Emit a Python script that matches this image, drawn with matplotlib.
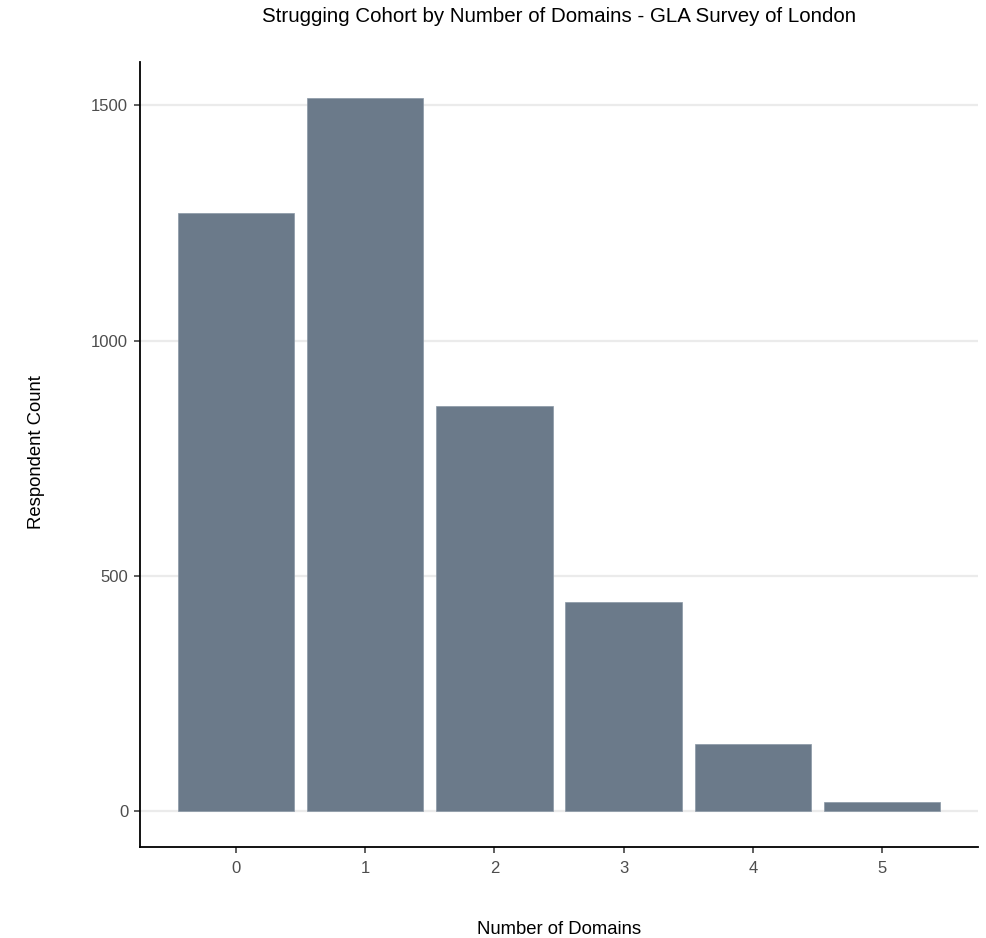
import matplotlib
matplotlib.use("Agg")
import matplotlib.pyplot as plt

plt.rcParams['font.family'] = ['Liberation Sans', 'DejaVu Sans']

domains = [0, 1, 2, 3, 4, 5]
counts = [1270, 1516, 861, 444, 144, 19]
yticks = [0, 500, 1000, 1500]

fig = plt.figure(figsize=(9.87, 9.38), dpi=100)
ax = fig.add_axes([140/987, (938-847)/938, (978-140)/987, (847-62)/938])

ax.bar(domains, counts, width=0.9, color='#6B7A8A', edgecolor='#8A97A5', linewidth=0.5, zorder=3)

ax.set_xlim(-0.74, 5.74)
ax.set_ylim(-75.8, 1591.8)
ax.set_yticks(yticks)
ax.set_xticks(domains)
ax.set_xticklabels([str(d) for d in domains])
ax.yaxis.grid(True, color='#EBEBEB', linewidth=1.6, zorder=0)
ax.xaxis.grid(False)
for s in ['top', 'right']:
    ax.spines[s].set_visible(False)
for s in ['left', 'bottom']:
    ax.spines[s].set_linewidth(1.3)
    ax.spines[s].set_color('black')
ax.tick_params(axis='both', colors='#333333', labelcolor='#4D4D4D', labelsize=12, length=4, width=1.1)
ax.tick_params(axis='y', pad=4.5)
ax.tick_params(axis='x', pad=6)

fig.text(559/987, 1 - 17/938, 'Strugging Cohort by Number of Domains - GLA Survey of London',
         ha='center', va='center', fontsize=14.8, color='black')
fig.text(559/987, 1 - 929/938, 'Number of Domains', ha='center', va='center', fontsize=13.3, color='black')
fig.text(37/987, 1 - 452/938, 'Respondent Count', ha='center', va='center', rotation=90, fontsize=13.3, color='black')

fig.savefig('out.png', dpi=100)
